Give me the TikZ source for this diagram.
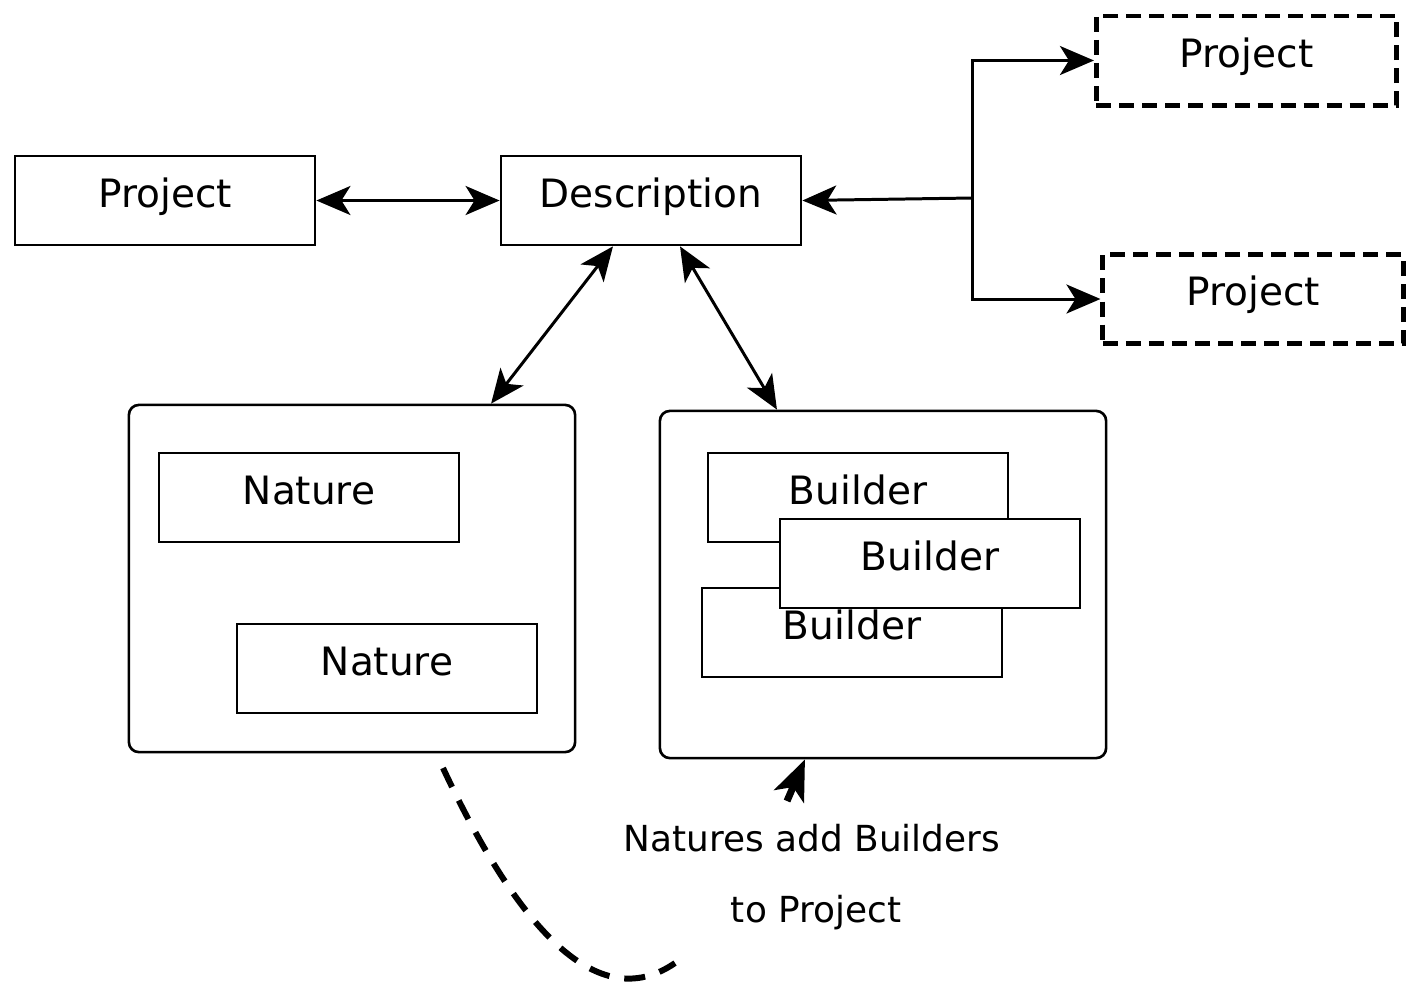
\documentclass[tikz,border=0pt]{standalone}
\usepackage{fontspec}
\setmainfont{DejaVu Sans}
\usetikzlibrary{arrows.meta,calc,positioning}

\begin{document}
\begin{tikzpicture}[x=0.01cm,y=-0.01cm,
		box/.style={draw, line width=0.75pt, minimum width=3cm, minimum height=0.89cm, inner sep=0pt,
			font=\fontsize{11.1}{13}\selectfont, text height=0.75em, text depth=0.38em},
		ghost/.style={box, line width=1.4pt, dash pattern=on 0.15cm off 0.08cm},
		holder/.style={draw, line width=0.75pt, rounded corners=0.1cm, minimum width=4.46cm, minimum height=3.47cm, inner sep=0pt},
		link/.style={line width=0.85pt, >={Stealth[length=0.34cm,width=0.29cm,inset=0.09cm]}},
		note/.style={font=\fontsize{10.2}{12}\selectfont, inner sep=0pt}]
		\useasboundingbox (0,0) rectangle (1419,996);
		% top row
		\node [box] (projL) at (165,200.5) {Project};
		\node [box] (desc) at (651,200.5) {Description};
		\node [ghost] (projA) at (1246.5,60.5) {Project};
		\node [ghost] (projB) at (1253,299) {Project};
		% containers
		\node [holder] (natbox) at (352,578.5) {};
		\node [holder] (bldbox) at (883,584.5) {};
		\node [box] (nat1) at (309,497.5) {Nature};
		\node [box] (nat2) at (387,668.5) {Nature};
		\node [box] (bld1) at (858,497.5) {Builder};
		\node [box] (bld3) at (852,632.5) {Builder};
		\node [box, fill=white] (bld2) at (930,563.5) {Builder};
		% notes
		\node [note] (note1) at (812,838) {Natures add Builders};
		\node [note] (note2) at (816,913) {to Project};
		% connectors
		\draw [link, <->] (projL.east) -- (desc.west);
		\draw [link, <->] ([xshift=-0.38cm]desc.south) -- ([xshift=1.39cm]natbox.north);
		\draw [link, <->] ([xshift=0.29cm]desc.south) -- ([xshift=-1.06cm]bldbox.north);
		\coordinate (fork) at (972,198);
		\draw [link, ->] (fork) -- (desc.east);
		\draw [link, ->] (fork) |- (projA.west);
		\draw [link, ->] (fork) |- (projB.west);
		\coordinate (tail) at (787,801);
		\draw [link, line width=2pt, ->, >={Stealth[length=0.4cm,width=0.32cm,inset=0.1cm]}] (tail) -- ([xshift=-0.78cm]bldbox.south);
		% dashed curve
		\draw [line width=1.7pt, dash pattern=on 0.21cm off 0.15cm] (443,768) .. controls (500,890) and (585,1025) .. (675,963);
	\end{tikzpicture}
\end{document}
